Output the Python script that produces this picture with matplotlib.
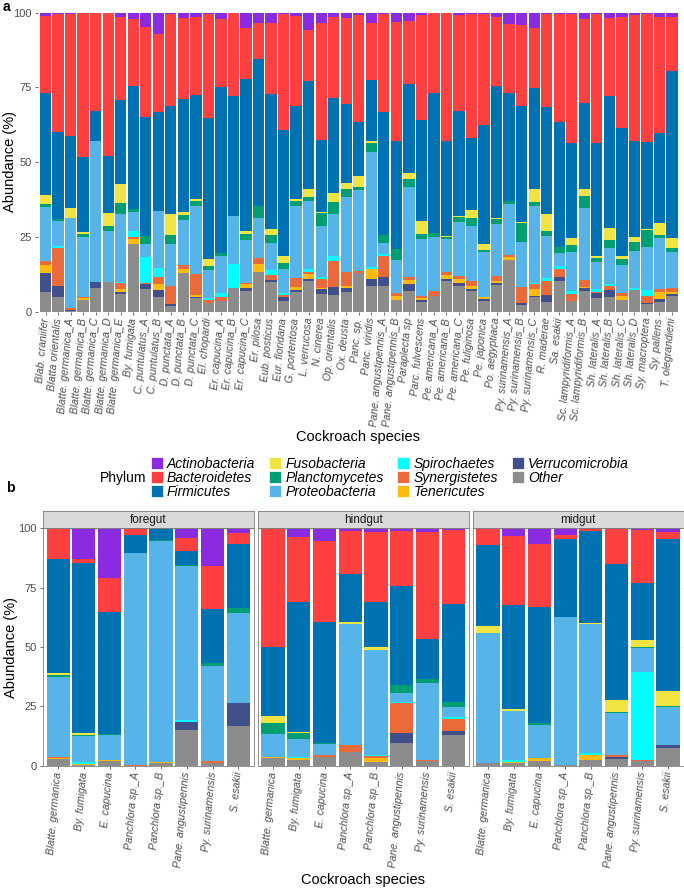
import matplotlib
matplotlib.use("Agg")
import matplotlib.pyplot as plt
import numpy as np
from matplotlib.patches import Patch

plt.rcParams["font.family"] = ["Liberation Sans", "DejaVu Sans"]

# Phylums, dans l'ordre de la légende (le premier est en haut de la pile)
PHYLA = ["Actinobacteria", "Bacteroidetes", "Firmicutes", "Fusobacteria",
         "Planctomycetes", "Proteobacteria", "Spirochaetes", "Synergistetes",
         "Tenericutes", "Verrucomicrobia", "Other"]
COLORS = ["#8A2BE2", "#FF4040", "#0072B2", "#F0E442", "#009E73", "#56B4E9",
          "#00FFFF", "#EA6A3A", "#FFB90F", "#41508A", "#8C8C8C"]

# ---- panneau a : 51 échantillons ----
species_a = [
    "Blab. craniifer", "Blatta orientalis", "Blatte. germanica_A",
    "Blatte. germanica_B", "Blatte. germanica_C", "Blatte. germanica_D",
    "Blatte. germanica_E", "By. fumigata", "C. puntulatus_A", "C. puntulatus_B",
    "D. punctata_A", "D. punctata_B", "D. punctata_C", "El. chopardi",
    "Er. capucina_A", "Er. capucina_B", "Er. capucina_C", "Er. pilosa",
    "Eub. posticus", "Eur. floridana", "G. portentosa", "L. verrucosa",
    "N. cinerea", "Op. orientalis", "Ox. deusta", "Panc. sp.", "Panc. viridis",
    "Pane. angustipennis_A", "Pane. angustipennis_B", "Paraplecta sp",
    "Parc. fulvescens", "Pe. americana_A", "Pe. americana_B", "Pe. americana_C",
    "Pe. fuliginosa", "Pe. japonica", "Po. aegyptiaca", "Py. surinamensis_A",
    "Py. surinamensis_B", "Py. surinamensis_C", "R. maderae", "Sa. esakii",
    "Sc. lampyridiformis_A", "Sc. lampyridiformis_B", "Sh. lateralis_A",
    "Sh. lateralis_B", "Sh. lateralis_C", "Sh. lateralis_D", "Sy. macroptera",
    "Sy. pallens", "T. olegrandieni",
]
act_a = [1, 0.3, 0.3, 0, 0, 0, 1.3, 2.1, 4.7, 7.2, 0.4, 1.9, 1.3, 0.4, 2.1, 0,
         5.2, 3.6, 3.3, 0.4, 1.1, 5.8, 3.6, 1.6, 1.7, 0.8, 3.6, 0.4, 3.0, 2.8,
         0.8, 0, 0, 0.8, 0.3, 0.4, 1.6, 3.9, 4.1, 5.0, 0.6, 0.4, 0.6, 2.1, 0.6,
         1.9, 1.6, 0.8, 0.6, 1.3, 1.6]
bact_a = [26, 39.7, 40.8, 48.2, 32.9, 47.9, 27.9, 22.4, 30.1, 26.1, 30.8, 26.9,
          26.2, 35.0, 22.9, 27.9, 17.0, 12.0, 23.9, 38.8, 30.0, 16.9, 39.0,
          26.8, 29.0, 35.8, 18.9, 32.9, 39.9, 21.1, 35.1, 27.0, 42.9, 32.1,
          41.7, 37.2, 22.8, 23.1, 27.0, 20.1, 30.8, 36.1, 43.1, 28.0, 42.9,
          26.0, 36.9, 42.1, 42.5, 38.8, 17.8]
firm_a = [34, 29, 24.1, 25.3, 9.9, 19.2, 28.0, 41.2, 39.9, 32.9, 36.1, 38.0,
          34.8, 47.1, 55.5, 40.1, 50.8, 48.9, 45.0, 42.1, 31.2, 36.1, 24.0,
          32.0, 26.2, 18.0, 20.3, 41.1, 36.1, 29.8, 33.8, 46.8, 31.8, 35.0,
          24.0, 39.9, 44.1, 36.0, 38.8, 34.0, 36.0, 42.0, 31.8, 28.9, 37.8,
          44.0, 42.9, 32.2, 29.3, 30.1, 56.1]
fuso_a = [3, 0, 3.3, 0.6, 0, 4.2, 6.3, 0, 0, 0, 7.1, 0.8, 0.8, 2.2, 0, 0, 1.0,
          0, 2.2, 2.5, 0.7, 3.0, 0.5, 3.0, 1.9, 3.8, 0.9, 0, 0, 1.9, 4.3, 0,
          0.4, 0.4, 2.8, 1.9, 0.5, 0, 0.4, 4.1, 5.6, 0, 2.2, 2.3, 0.6, 4.1,
          1.0, 1.5, 0.4, 4.2, 3.3]
plan_a = [1, 0.6, 0, 1.0, 0, 1.7, 3.9, 0.8, 2.8, 0, 3.0, 1.7, 1.4, 1.5, 0.9, 0,
          2.0, 4.2, 2.7, 1.9, 1.5, 1.2, 4.2, 3.9, 2.7, 0.9, 3.0, 2.7, 3.7, 2.6,
          1.7, 1.3, 0.7, 1.6, 2.5, 0.5, 1.8, 1.0, 6.3, 1.3, 1.7, 1.8, 2.2, 3.9,
          1.6, 2.8, 2.0, 3.0, 5.5, 0.9, 1.4]
prot_a = [18, 8.2, 30.4, 20.2, 47.2, 17.0, 22.6, 6.4, 4.1, 19.1, 13.9, 15.2,
          22.9, 9.4, 12.5, 16.2, 14.3, 13.2, 9.0, 8.2, 24.1, 22.8, 17.0, 14.0,
          25.1, 27.0, 38.2, 3.6, 11.2, 30.3, 19.1, 17.9, 11.0, 18.2, 18.3,
          15.1, 17.3, 17.0, 15.3, 26.0, 13.9, 4.4, 13.2, 24.2, 9.0, 12.1, 9.5,
          12.4, 14.5, 17.2, 12.0]
spir_a = [0, 0.9, 0, 0, 0, 0, 0.3, 1.9, 8.7, 3.0, 0, 0, 0, 0.7, 1.1, 7.8, 0, 0,
          1.6, 0.5, 0, 0.8, 0.6, 1.8, 0, 0, 0.9, 0.7, 0, 0, 0, 0, 0, 0, 0, 0,
          0, 0, 0, 0.4, 1.0, 1.1, 1.1, 0, 0.8, 0.5, 0, 0.8, 1.8, 0, 0]
syn_a = [1.5, 12.6, 0.4, 0.3, 0, 0, 2.0, 0.9, 0.6, 2.6, 6.1, 1.3, 7.0, 0.8, 1.3,
         0, 0.6, 2.3, 1.7, 0.6, 3.0, 0.9, 3.3, 8.8, 4.8, 0.7, 0, 7.1, 0.7, 0.9,
         0.5, 1.6, 0.9, 1.1, 1.7, 0, 1.6, 0.6, 5.1, 1.6, 4.8, 2.5, 2.2, 2.2,
         0.6, 1.4, 0.7, 0, 2.4, 0.8, 1.1]
ten_a = [2.5, 0, 0, 0.7, 0, 0, 1.0, 1.7, 0, 1.9, 0, 1.4, 0.6, 0, 0, 0, 1.3, 2.6,
         0, 0, 1.2, 1.4, 0.3, 0, 0.8, 0, 3.4, 0, 1.5, 1.3, 0.8, 0, 1.5, 1.3,
         1.1, 0.9, 0.6, 1.1, 0, 2.1, 0, 0, 0, 0.6, 0, 0, 1.5, 0, 0, 2.5, 0.9]
verr_a = [6.5, 3.6, 0.4, 0, 2.0, 0, 0.7, 0, 1.5, 2.2, 0.6, 0, 0.5, 0, 0, 0, 0.8,
          0, 0.6, 1.4, 0.6, 0.8, 1.6, 2.5, 1.1, 0, 2.2, 2.9, 0, 2.3, 0.8, 0,
          0.4, 0.8, 0.6, 0.5, 0.8, 0, 0.8, 0.6, 2.5, 1.4, 0, 0.8, 1.4, 2.2, 0,
          0, 0.4, 0.9, 0.6]
other_a = [6.5, 5, 0.3, 3.9, 8.0, 10.0, 6.0, 22.5, 7.6, 5.0, 2.0, 12.8, 4.5,
           3.0, 3.7, 8.0, 7.0, 13.2, 10.0, 3.6, 6.6, 10.3, 5.9, 5.6, 6.7, 13.0,
           8.6, 8.6, 3.9, 7.0, 3.1, 5.4, 10.4, 8.7, 7.0, 3.6, 8.9, 17.3, 2.2,
           4.8, 3.1, 10.3, 3.6, 7.0, 4.7, 5.0, 3.9, 7.2, 2.6, 3.3, 5.2]

# ---- panneau b : 8 espèces x 3 régions (foregut, hindgut, midgut) ----
guts = ["foregut", "hindgut", "midgut"]
species_b = ["Blatte. germanica", "By. fumigata", "E. capucina",
             "Panchlora sp._A", "Panchlora sp._B", "Pane. angustipennis",
             "Py. surinamensis", "S. esakii"]
act_b = [0, 13.1, 20.8, 0.4, 0, 3.9, 15.9, 1.8,
         0, 3.8, 5.3, 1.1, 1.7, 1.1, 1.4, 0.7,
         0, 3.1, 6.7, 2.8, 0.3, 0.3, 0.7, 1.4]
bact_b = [13.1, 1.6, 14.3, 2.4, 0.4, 5.5, 18.1, 4.8,
          49.9, 27.1, 34.2, 18.1, 29.2, 23.1, 45.2, 31.2,
          7.0, 29.2, 26.3, 1.7, 0.7, 14.9, 22.2, 3.1]
firm_b = [48.0, 71.4, 51.7, 7.7, 4.5, 6.0, 22.9, 26.8,
          29.2, 54.8, 50.8, 20.1, 19.0, 41.8, 17.0, 41.1,
          34.2, 44.0, 49.2, 32.7, 39.0, 57.1, 24.2, 64.0]
fuso_b = [0.7, 1.1, 0, 0, 0, 0, 0, 0,
          3.1, 0.4, 0, 1.0, 1.4, 0, 0, 0,
          2.8, 0.5, 0, 0.2, 0.4, 4.9, 2.8, 6.2]
plan_b = [0.7, 0.3, 0.3, 0, 0.3, 0.5, 1.0, 2.1,
          4.6, 2.5, 0.7, 0, 0, 3.5, 1.7, 2.1,
          0.3, 0, 0.7, 0, 0, 0.7, 0.4, 0.4]
prot_b = [33.8, 11.1, 10.3, 89.2, 93.1, 64.9, 40.3, 38.0,
          9.5, 7.7, 4.3, 51.0, 44.0, 3.5, 32.1, 4.3,
          54.4, 20.9, 13.8, 62.5, 54.2, 17.8, 10.1, 16.1]
spir_b = [0, 0.5, 0, 0, 0, 0.9, 0, 0,
          0, 0.6, 0, 0, 0.7, 0.7, 0.3, 1.1,
          0, 0.7, 0, 0, 0.7, 0, 37.0, 0]
syn_b = [0.3, 0, 0.2, 0.3, 0, 0, 0.5, 0,
         0, 0, 1.0, 2.9, 0.7, 12.7, 0.5, 4.9,
         0, 0, 0, 0, 0, 0.6, 0.8, 0]
ten_b = [0.5, 0.4, 0.6, 0, 0.5, 0, 0.2, 0,
         0.6, 0.5, 0, 0, 1.7, 0, 0, 0,
         0.2, 0.4, 1.5, 0, 2.1, 0, 0, 0]
verr_b = [0, 0, 0, 0, 0, 3.2, 0, 9.7,
          0, 0, 0, 0, 0, 3.9, 0, 1.7,
          0, 0, 0, 0, 0, 0.9, 0, 1.4]
other_b = [2.9, 0.5, 1.8, 0, 1.2, 15.1, 1.1, 16.8,
           3.1, 2.6, 3.7, 5.8, 1.6, 9.7, 1.8, 12.9,
           1.1, 1.2, 1.8, 0.1, 2.6, 2.8, 1.8, 7.4]

table_a = [act_a, bact_a, firm_a, fuso_a, plan_a, prot_a, spir_a, syn_a,
           ten_a, verr_a, other_a]
table_b = [act_b, bact_b, firm_b, fuso_b, plan_b, prot_b, spir_b, syn_b,
           ten_b, verr_b, other_b]

W, H = 684, 888
TICK_GREY = "#4D4D4D"
fig = plt.figure(figsize=(W / 100, H / 100), dpi=100)


def px_axes(left, top, right, bottom):
    """Crée des axes à partir de coordonnées en pixels."""
    return fig.add_axes([left / W, 1 - bottom / H, (right - left) / W,
                         (bottom - top) / H])


def stacked_bars(ax, columns):
    """Barres empilées normalisées à 100 %, Other en bas."""
    data = np.array(columns, dtype=float)
    data = data / data.sum(axis=0) * 100
    x = np.arange(data.shape[1])
    bottom = np.zeros(data.shape[1])
    for vals, col in zip(data[::-1], COLORS[::-1]):
        ax.bar(x, vals, bottom=bottom, width=0.9, color=col, linewidth=0,
               zorder=2)
        bottom += vals
    ax.set_xlim(-0.6, data.shape[1] - 0.4)
    ax.set_ylim(0, 100)
    ax.set_yticks([0, 25, 50, 75, 100])


def style_ticks(ax, labels):
    ax.set_xticks(np.arange(len(labels)))
    ax.set_xticklabels(labels, rotation=85, ha="right", va="center",
                       rotation_mode="anchor", style="italic", fontsize=7.7,
                       color=TICK_GREY)
    ax.tick_params(axis="both", length=2.5, width=0.5, color="#333333",
                   labelcolor=TICK_GREY, pad=2)
    ax.tick_params(axis="y", labelsize=8)


# ---- panneau a ----
ax_a = px_axes(38, 12.7, 679.5, 311.7)
stacked_bars(ax_a, table_a)
style_ticks(ax_a, species_a)
for side in ax_a.spines.values():
    side.set_visible(False)
fig.text(10.5 / W, 1 - 162 / H, "Abundance (%)", rotation=90, ha="center",
         va="center", fontsize=10.5)
fig.text(358 / W, 1 - 437 / H, "Cockroach species", ha="center", va="center",
         fontsize=10.5)
fig.text(3 / W, 1 - 7 / H, "a", fontweight="bold", fontsize=10, ha="left",
         va="center")

# ---- légende ----
handles = [Patch(facecolor=c, edgecolor="white", linewidth=0.5) for c in COLORS]
leg = fig.legend(handles, PHYLA, ncol=4, loc="upper left",
                 bbox_to_anchor=(151 / W, 1 - 457 / H), frameon=False,
                 borderpad=0, borderaxespad=0, handlelength=0.85,
                 handleheight=0.9, handletextpad=0.3, labelspacing=0.0,
                 columnspacing=1.0, prop={"size": 10, "style": "italic"})
fig.text(100 / W, 1 - 478 / H, "Phylum", ha="left", va="center", fontsize=10)
fig.text(6 / W, 1 - 488 / H, "b", fontweight="bold", fontsize=10, ha="left",
         va="center")

# ---- panneau b ----
panel_edges = [(42.7, 253.7), (257.6, 468.6), (472.5, 683.5)]
n = len(species_b)
for k, (gut, (left, right)) in enumerate(zip(guts, panel_edges)):
    ax = px_axes(left, 528.3, right, 765.7)
    cols = [vals[k * n:(k + 1) * n] for vals in table_b]
    stacked_bars(ax, cols)
    style_ticks(ax, species_b)
    ax.grid(axis="y", color="#EBEBEB", linewidth=0.5, zorder=0)
    for side in ax.spines.values():
        side.set_color("#7F7F7F")
        side.set_linewidth(0.6)
        side.set_zorder(3)
    if k > 0:
        ax.tick_params(axis="y", left=False, labelleft=False)
    strip = px_axes(left, 510.7, right, 528.3)
    strip.set_facecolor("#D9D9D9")
    strip.set_xticks([])
    strip.set_yticks([])
    for side in strip.spines.values():
        side.set_color("#7F7F7F")
        side.set_linewidth(0.6)
    strip.text(0.5, 0.5, gut, ha="center", va="center", fontsize=8.5,
               color="#1A1A1A", transform=strip.transAxes)

fig.text(11.5 / W, 1 - 647 / H, "Abundance (%)", rotation=90, ha="center",
         va="center", fontsize=10.5)
fig.text(363 / W, 1 - 880 / H, "Cockroach species", ha="center", va="center",
         fontsize=10.5)

fig.savefig("out.png", dpi=100)
